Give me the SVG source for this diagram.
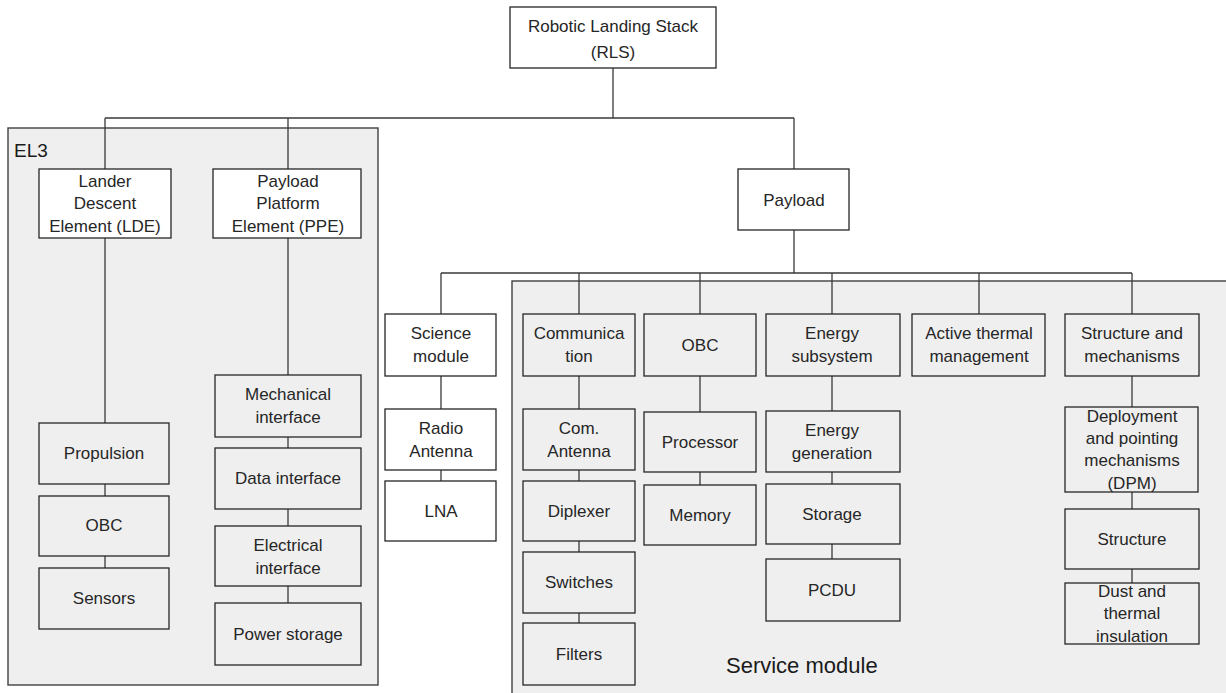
<svg xmlns="http://www.w3.org/2000/svg" width="1226" height="693" viewBox="0 0 1226 693">
<style>
.ctr{fill:#efefef;stroke:#404040;stroke-width:1.4}
.nw{fill:#ffffff;stroke:#262626;stroke-width:1.3}
.ng{fill:none;stroke:#262626;stroke-width:1.3}
.t{font-family:"Liberation Sans",Arial,sans-serif;font-size:17px;fill:#262626;text-anchor:middle}
.lbl{font-family:"Liberation Sans",Arial,sans-serif;fill:#1a1a1a}
.c{stroke:#3a3a3a;stroke-width:1.3;fill:none}
</style>
<rect width="1226" height="693" fill="#ffffff"/>
<g id="containers">
<rect class="ctr" x="8" y="128" width="370" height="557"/>
<text class="lbl" x="14" y="157" font-size="19">EL3</text>
<rect class="ctr" x="512" y="281" width="730" height="430"/>
<text class="lbl" x="726" y="673" font-size="22">Service module</text>
</g>
<g id="connectors">
<path class="c" d="M613 68V118M105 118H794M105 118V169M288 118V169M794 118V169"/>
<path class="c" d="M794 230V273M441 273H1132M441 273V314M579 273V314M700 273V314M832 273V314M979 273V314M1132 273V314"/>
<path class="c" d="M105 238V423M105 484V496M105 556V568"/>
<path class="c" d="M288 238V375M288 437V448M288 509V526M288 586V603"/>
<path class="c" d="M441 376V409M441 470V481"/>
<path class="c" d="M579 376V409M579 470V481M579 541V552M579 613V623"/>
<path class="c" d="M700 376V412M700 472V485"/>
<path class="c" d="M832 376V411M832 472V484M832 544V559"/>
<path class="c" d="M1132 376V407M1132 492V509M1132 569V583"/>
</g>
<g id="rls"><rect class="nw" x="510" y="7" width="206" height="61"/><text class="t" x="613" y="32">Robotic Landing Stack</text><text class="t" x="613" y="58">(RLS)</text></g>
<g id="payload"><rect class="nw" x="738" y="169" width="111" height="61"/><text class="t" x="794" y="206">Payload</text></g>
<g id="lde"><rect class="nw" x="39" y="169" width="132" height="69"/><text class="t" x="105" y="187">Lander</text><text class="t" x="105" y="209">Descent</text><text class="t" x="105" y="232">Element (LDE)</text></g>
<g id="ppe"><rect class="nw" x="213" y="169" width="148" height="69"/><text class="t" x="288" y="187">Payload</text><text class="t" x="288" y="209">Platform</text><text class="t" x="288" y="232">Element (PPE)</text></g>
<g id="propulsion"><rect class="ng" x="39" y="423" width="130" height="61"/><text class="t" x="104" y="459">Propulsion</text></g>
<g id="lde-obc"><rect class="ng" x="39" y="496" width="130" height="60"/><text class="t" x="104" y="531">OBC</text></g>
<g id="sensors"><rect class="ng" x="39" y="568" width="130" height="61"/><text class="t" x="104" y="604">Sensors</text></g>
<g id="mech-if"><rect class="ng" x="215" y="375" width="146" height="62"/><text class="t" x="288" y="400">Mechanical</text><text class="t" x="288" y="423">interface</text></g>
<g id="data-if"><rect class="ng" x="215" y="448" width="146" height="61"/><text class="t" x="288" y="484">Data interface</text></g>
<g id="elec-if"><rect class="ng" x="215" y="526" width="146" height="60"/><text class="t" x="288" y="551">Electrical</text><text class="t" x="288" y="574">interface</text></g>
<g id="power-storage"><rect class="ng" x="215" y="603" width="146" height="62"/><text class="t" x="288" y="640">Power storage</text></g>
<g id="science"><rect class="nw" x="385" y="314" width="111" height="62"/><text class="t" x="441" y="339">Science</text><text class="t" x="441" y="362">module</text></g>
<g id="radio-antenna"><rect class="nw" x="385" y="409" width="111" height="61"/><text class="t" x="441" y="434">Radio</text><text class="t" x="441" y="457">Antenna</text></g>
<g id="lna"><rect class="nw" x="385" y="481" width="111" height="60"/><text class="t" x="441" y="517">LNA</text></g>
<g id="comm"><rect class="ng" x="523" y="314" width="112" height="62"/><text class="t" x="579" y="339">Communica</text><text class="t" x="579" y="362">tion</text></g>
<g id="com-antenna"><rect class="ng" x="523" y="409" width="112" height="61"/><text class="t" x="579" y="434">Com.</text><text class="t" x="579" y="457">Antenna</text></g>
<g id="diplexer"><rect class="ng" x="523" y="481" width="112" height="60"/><text class="t" x="579" y="517">Diplexer</text></g>
<g id="switches"><rect class="ng" x="523" y="552" width="112" height="61"/><text class="t" x="579" y="588">Switches</text></g>
<g id="filters"><rect class="ng" x="523" y="623" width="112" height="62"/><text class="t" x="579" y="660">Filters</text></g>
<g id="obc"><rect class="ng" x="644" y="314" width="112" height="62"/><text class="t" x="700" y="351">OBC</text></g>
<g id="processor"><rect class="ng" x="644" y="412" width="112" height="60"/><text class="t" x="700" y="448">Processor</text></g>
<g id="memory"><rect class="ng" x="644" y="485" width="112" height="60"/><text class="t" x="700" y="521">Memory</text></g>
<g id="energy"><rect class="ng" x="766" y="314" width="134" height="62"/><text class="t" x="832" y="339">Energy</text><text class="t" x="832" y="362">subsystem</text></g>
<g id="energy-gen"><rect class="ng" x="766" y="411" width="134" height="61"/><text class="t" x="832" y="436">Energy</text><text class="t" x="832" y="459">generation</text></g>
<g id="storage"><rect class="ng" x="766" y="484" width="134" height="60"/><text class="t" x="832" y="520">Storage</text></g>
<g id="pcdu"><rect class="ng" x="766" y="559" width="134" height="62"/><text class="t" x="832" y="596">PCDU</text></g>
<g id="thermal"><rect class="ng" x="912" y="314" width="133" height="62"/><text class="t" x="979" y="339">Active thermal</text><text class="t" x="979" y="362">management</text></g>
<g id="structure-mech"><rect class="ng" x="1065" y="314" width="134" height="62"/><text class="t" x="1132" y="339">Structure and</text><text class="t" x="1132" y="362">mechanisms</text></g>
<g id="dpm"><rect class="ng" x="1065" y="407" width="133" height="85"/><text class="t" x="1132" y="422">Deployment</text><text class="t" x="1132" y="444">and pointing</text><text class="t" x="1132" y="466">mechanisms</text><text class="t" x="1132" y="489">(DPM)</text></g>
<g id="structure"><rect class="ng" x="1065" y="509" width="134" height="60"/><text class="t" x="1132" y="545">Structure</text></g>
<g id="dust"><rect class="ng" x="1065" y="583" width="134" height="61"/><text class="t" x="1132" y="597">Dust and</text><text class="t" x="1132" y="619">thermal</text><text class="t" x="1132" y="642">insulation</text></g>
</svg>
